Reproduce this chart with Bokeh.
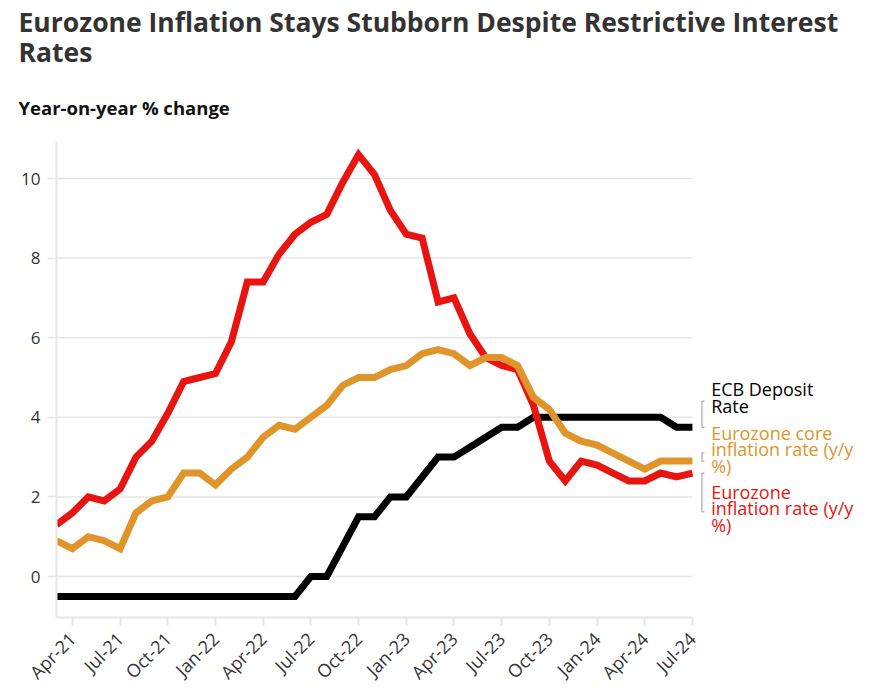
import math
from bokeh.plotting import figure
from bokeh.models import Title, FixedTicker, Range1d, ColumnDataSource
from bokeh.core.properties import value
from bokeh.embed import file_html
from bokeh.resources import INLINE

# ---------------- data ----------------
months = ["Mar-21", "Apr-21", "May-21", "Jun-21", "Jul-21", "Aug-21", "Sep-21", "Oct-21",
          "Nov-21", "Dec-21", "Jan-22", "Feb-22", "Mar-22", "Apr-22", "May-22", "Jun-22",
          "Jul-22", "Aug-22", "Sep-22", "Oct-22", "Nov-22", "Dec-22", "Jan-23", "Feb-23",
          "Mar-23", "Apr-23", "May-23", "Jun-23", "Jul-23", "Aug-23", "Sep-23", "Oct-23",
          "Nov-23", "Dec-23", "Jan-24", "Feb-24", "Mar-24", "Apr-24", "May-24", "Jun-24",
          "Jul-24"]
hicp = [1.3, 1.6, 2.0, 1.9, 2.2, 3.0, 3.4, 4.1, 4.9, 5.0, 5.1, 5.9, 7.4, 7.4, 8.1, 8.6,
        8.9, 9.1, 9.9, 10.6, 10.1, 9.2, 8.6, 8.5, 6.9, 7.0, 6.1, 5.5, 5.3, 5.2, 4.3, 2.9,
        2.4, 2.9, 2.8, 2.6, 2.4, 2.4, 2.6, 2.5, 2.6]
core = [0.9, 0.7, 1.0, 0.9, 0.7, 1.6, 1.9, 2.0, 2.6, 2.6, 2.3, 2.7, 3.0, 3.5, 3.8, 3.7,
        4.0, 4.3, 4.8, 5.0, 5.0, 5.2, 5.3, 5.6, 5.7, 5.6, 5.3, 5.5, 5.5, 5.3, 4.5, 4.2,
        3.6, 3.4, 3.3, 3.1, 2.9, 2.7, 2.9, 2.9, 2.9]
ecb = [-0.5, -0.5, -0.5, -0.5, -0.5, -0.5, -0.5, -0.5, -0.5, -0.5, -0.5, -0.5, -0.5, -0.5,
       -0.5, -0.5, 0.0, 0.0, 0.75, 1.5, 1.5, 2.0, 2.0, 2.5, 3.0, 3.0, 3.25, 3.5, 3.75, 3.75,
       4.0, 4.0, 4.0, 4.0, 4.0, 4.0, 4.0, 4.0, 4.0, 3.75, 3.75]
tick_labels = ["Apr-21", "Jul-21", "Oct-21", "Jan-22", "Apr-22", "Jul-22", "Oct-22",
               "Jan-23", "Apr-23", "Jul-23", "Oct-23", "Jan-24", "Apr-24", "Jul-24"]
y_ticks = [0, 2, 4, 6, 8, 10]

ecb_label = ["ECB Deposit", "Rate"]
core_label = ["Eurozone core", "inflation rate (y/y", "%)"]
hicp_label = ["Eurozone", "inflation rate (y/y", "%)"]

title_lines = ["Eurozone Inflation Stays Stubborn Despite Restrictive Interest", "Rates"]
subtitle = "Year-on-year % change"

# ---------------- style ----------------
RED = "#e8140f"
ORANGE = "#e0952b"
BLACK = "#000000"
GRID = "#e6e6e6"
FONT = "Open Sans"

W, H = 877, 698
LEFT = 56
TOP = 141
BOTTOM = 81
X_END = 51.64
Y0, Y1 = -1.03, 10.93
frame_w = W - LEFT
frame_h = H - TOP - BOTTOM
ppx = frame_w / X_END          # pixels per month
ppy = frame_h / (Y1 - Y0)      # pixels per unit

x = list(range(len(months)))
last = len(months) - 1

p = figure(width=W, height=H, output_backend="svg", toolbar_location=None,
           x_range=Range1d(0, X_END), y_range=Range1d(Y0, Y1),
           min_border_left=LEFT, min_border_right=0, min_border_bottom=BOTTOM,
           min_border_top=TOP)
p.outline_line_color = None
p.xgrid.visible = False
p.ygrid.visible = False
p.background_fill_color = "white"
p.border_fill_color = "white"

# titles (first in list = farthest from plot)
p.title.text = "\n".join(title_lines)
p.title.text_font = FONT
p.title.text_font_size = "26.5px"
p.title.text_font_style = "bold"
p.title.text_color = "#333333"
p.title.text_line_height = 0.85
p.title.align = "left"
p.title.offset = -38
p.title.standoff = 2

st = Title(text=subtitle, text_font=FONT, text_font_size="18.5px", text_font_style="bold",
           text_color="#111111", align="left", offset=-38, standoff=43)
p.add_layout(st, "above")

# gridlines limited to the data span
p.segment(x0=[0] * len(y_ticks), x1=[last] * len(y_ticks), y0=y_ticks, y1=y_ticks,
          line_color=GRID, line_width=1.5)

# axes
xa = p.xaxis[0]
xa.ticker = FixedTicker(ticks=[months.index(t) for t in tick_labels])
xa.major_label_overrides = {months.index(t): t for t in tick_labels}
xa.bounds = (0, last)
xa.axis_line_color = GRID
xa.axis_line_width = 2
xa.major_tick_line_color = GRID
xa.major_tick_line_width = 2
xa.major_tick_in = 0
xa.major_tick_out = 8
xa.minor_tick_line_color = None
xa.major_label_orientation = math.pi / 4
xa.major_label_text_font = FONT
xa.major_label_text_font_size = "18px"
xa.major_label_text_color = "#333333"
xa.major_label_standoff = 10

ya = p.yaxis[0]
ya.ticker = FixedTicker(ticks=y_ticks)
ya.axis_line_color = GRID
ya.axis_line_width = 2
ya.major_tick_line_color = GRID
ya.major_tick_line_width = 1.5
ya.major_tick_in = 0
ya.major_tick_out = 9
ya.minor_tick_line_color = None
ya.major_label_text_font = FONT
ya.major_label_text_font_size = "17px"
ya.major_label_text_color = "#333333"
ya.major_label_standoff = 7

# series
p.line(x, ecb, line_color=BLACK, line_width=7, line_join="miter")
p.line(x, hicp, line_color=RED, line_width=7, line_join="miter")
p.line(x, core, line_color=ORANGE, line_width=7, line_join="miter")

# end labels with connector brackets
LINE_H = 16.6
labels = [(ecb_label, ecb[-1], BLACK, -38.0),
          (core_label, core[-1], ORANGE, -28.5),
          (hicp_label, hicp[-1], RED, 18.5)]
tx, ty, tt, toff, tc = [], [], [], [], []
bx, by = [], []
bx0 = last + 9.5 / ppx
hook = 2.5 / ppx
for lines, yv, col, first in labels:
    for i, s in enumerate(lines):
        tx.append(last)
        ty.append(yv)
        tt.append(s)
        toff.append(first + i * LINE_H)
        tc.append(col)
    mid_off = first + (len(lines) - 1) * LINE_H / 2 + 3.7
    ymid = yv - mid_off / ppy
    bx.append([bx0 + hook, bx0, bx0, bx0 + hook])
    by.append([yv, yv, ymid, ymid])

p.multi_line(xs=bx, ys=by, line_color="#b0b0b0", line_width=1.3)
src = ColumnDataSource(dict(x=tx, y=ty, text=tt, yoff=toff, color=tc))
p.text(x="x", y="y", text="text", y_offset="yoff", x_offset=18.7, text_color="color",
       text_font=value(FONT), text_font_size="18px", text_baseline="alphabetic",
       text_align="left", source=src)

open("out.html", "w").write(file_html(p, INLINE))
